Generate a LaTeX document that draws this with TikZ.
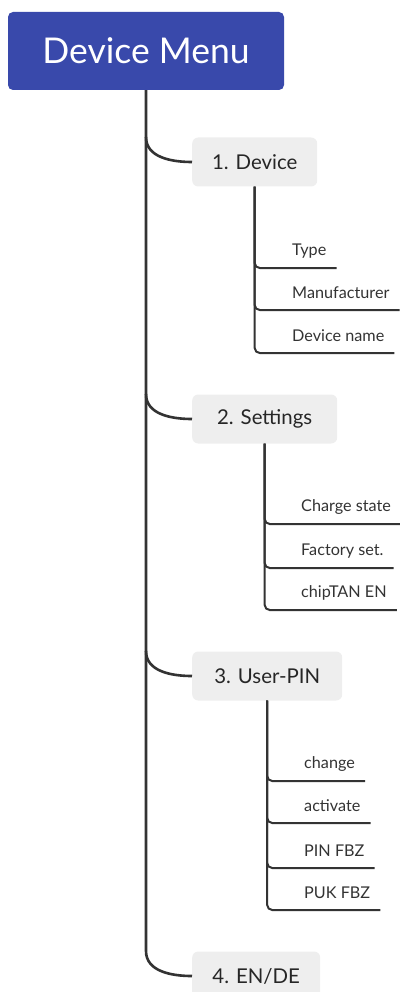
\documentclass[tikz,border=0pt]{standalone}
\usepackage{fontspec}
\setmainfont{Lato}
\usepackage{tikz}

\definecolor{menublue}{HTML}{3949AB}
\definecolor{itemgray}{HTML}{EEEEEE}
\definecolor{linegray}{HTML}{333333}

\tikzset{
  root/.style={rectangle,rounded corners=5pt,fill=menublue,text=white,
    font=\fontsize{35.5}{40}\selectfont,minimum width=276pt,minimum height=78pt,inner sep=0pt},
  item/.style={rectangle,rounded corners=6pt,fill=itemgray,text=black!85,
    font=\fontsize{20.4}{24}\selectfont,minimum height=49pt,inner sep=0pt,anchor=west},
  leaf/.style={font=\fontsize{16.2}{19}\selectfont,text=black!80,minimum height=34pt,
    inner xsep=10pt,inner ysep=0pt,anchor=south west},
  branch/.style={draw=linegray,line width=2.6pt},
  twig/.style={draw=linegray,line width=2pt,rounded corners=5pt},
}

\begin{document}
\begin{tikzpicture}[x=1pt,y=-1pt]
\useasboundingbox (0,0) rectangle (399,992);

% root and first level
\node[root] (menu) at (146,51) {Device Menu};
\node[item,minimum width=125pt] (device) at (192,162) {1. Device};
\node[item,minimum width=145pt] (settings) at (192,419) {2. Settings};
\node[item,minimum width=150pt] (userpin) at (192,676) {3. User-PIN};
\node[item,minimum width=128pt] (lang) at (192,976) {4. EN/DE};

\coordinate (b1) at (146,137);
\coordinate (b2) at (146,394);
\coordinate (b3) at (146,651);
\coordinate (b4) at (146,951);

\draw[branch] (menu.south) -- (b4) to[out=-90,in=180] (lang.west);
\draw[branch] (b1) to[out=-90,in=180] (device.west);
\draw[branch] (b2) to[out=-90,in=180] (settings.west);
\draw[branch] (b3) to[out=-90,in=180] (userpin.west);

% leaves of 1. Device
\node[leaf] (type) at (282,268) {Type};
\node[leaf] (maker) at (282,310) {Manufacturer};
\node[leaf] (devname) at (282,353) {Device name};
\foreach \l in {type,maker,devname}
  \draw[twig] (device.south) |- (\l.south east);

% leaves of 2. Settings
\node[leaf] (charge) at (291,524) {Charge state};
\node[leaf] (factory) at (291,568) {Factory set.};
\node[leaf] (chiptan) at (291,610) {chipTAN EN};
\foreach \l in {charge,factory,chiptan}
  \draw[twig] (settings.south) |- (\l.south east);

% leaves of 3. User-PIN
\node[leaf] (change) at (294,781) {change};
\node[leaf] (activate) at (294,823) {activate};
\node[leaf] (pinfbz) at (294,868) {PIN FBZ};
\node[leaf] (pukfbz) at (294,910) {PUK FBZ};
\foreach \l in {change,activate,pinfbz,pukfbz}
  \draw[twig] (userpin.south) |- (\l.south east);
\end{tikzpicture}
\end{document}
